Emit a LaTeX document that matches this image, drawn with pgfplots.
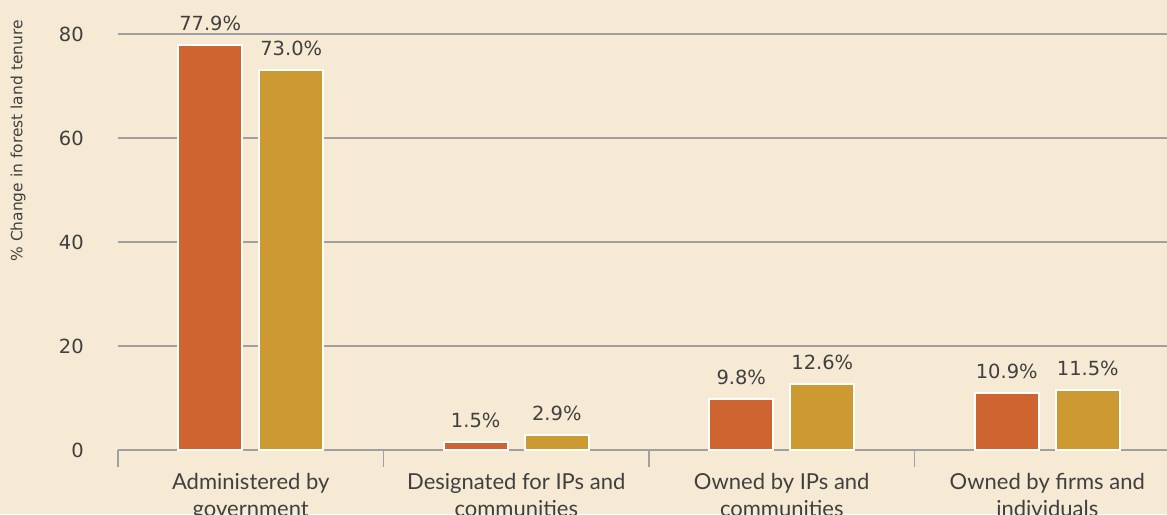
\documentclass[border=0pt]{standalone}
\usepackage{pgfplots}
\pgfplotsset{compat=1.18}
\usepackage{fontspec}
\setmainfont{DejaVu Sans}
\newfontfamily\catfont{Lato}
\definecolor{bg}{RGB}{246,234,212}
\definecolor{c1}{RGB}{206,101,49}
\definecolor{c2}{RGB}{204,153,51}
\definecolor{gridc}{RGB}{160,160,160}
\definecolor{txt}{RGB}{64,64,64}
\begin{document}
\begin{tikzpicture}
\fill[bg] (-88.5pt,-48pt) rectangle (786.75pt,337.5pt);
\useasboundingbox (-88.5pt,-48pt) rectangle (786.75pt,337.5pt);
\begin{axis}[
  at={(0,0)}, anchor=south west,
  scale only axis, width=786.75pt, height=312pt,
  xmin=-0.5, xmax=3.451, ymin=0, ymax=80,
  ybar, bar width=48pt,
  clip=false,
  axis x line*=bottom, axis y line*=left,
  y axis line style={draw=none},
  x axis line style={gridc, line width=1.2pt},
  ymajorgrids, grid style={gridc, line width=1.2pt},
  ytick={0,20,40,60,80},
  ytick style={draw=none},
  yticklabel style={font=\fontsize{14.6}{17}\selectfont, text=txt, anchor=east, inner sep=0pt, xshift=-25.5pt},
  /pgf/number format/assume math mode=true,
  xtick={-0.5,0.5,1.5,2.5},
  xticklabels={},
  xtick align=outside,
  xtick style={gridc, line width=1.2pt},
  major tick length=12.75pt,
  extra x ticks={0,1,2,3},
  extra x tick labels={Administered by\\government, Designated for IPs and\\communities, Owned by IPs and\\communities, Owned by firms and\\individuals},
  extra x tick style={major tick length=0pt, tick style={draw=none}, xticklabel style={font=\catfont\fontsize{16.5}{20.25}\selectfont, text=txt, align=center, anchor=north, inner sep=0pt, yshift=-17.5pt}},
  ylabel={\% Change in forest land tenure},
  ylabel style={font=\fontsize{11.6}{14}\selectfont, text=txt, at={(axis description cs:-0.0953,0.743)}, anchor=center},
  nodes near coords={\pgfmathprintnumber[fixed, fixed zerofill, precision=1]{\pgfplotspointmeta}\%},
  every node near coord/.append style={font=\fontsize{14.6}{17}\selectfont, text=txt, anchor=base, inner sep=0pt, yshift=11pt},
]
\addplot[fill=c1, draw=white, line width=1.5pt, bar shift=-30.4pt] coordinates {(0,77.9) (1,1.5) (2,9.8) (3,10.9)};
\addplot[fill=c2, draw=white, line width=1.5pt, bar shift=30.4pt] coordinates {(0,73.0) (1,2.9) (2,12.6) (3,11.5)};
\end{axis}
\end{tikzpicture}
\end{document}
